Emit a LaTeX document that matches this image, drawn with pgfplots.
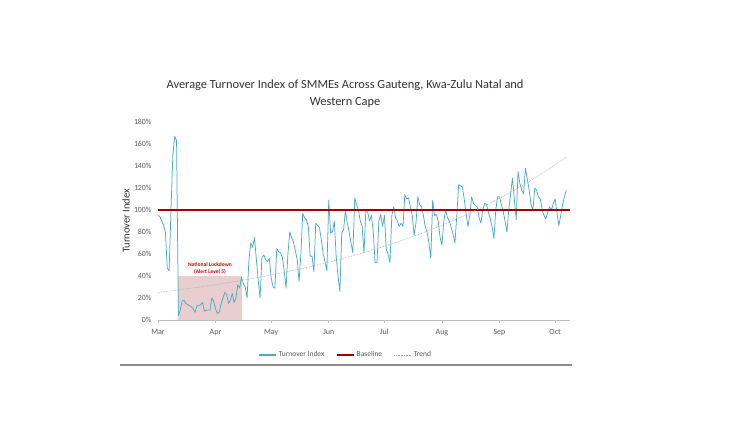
\documentclass[border=0pt]{standalone}
\usepackage{pgfplots}
\pgfplotsset{compat=1.18}
\usepackage{pgfplotstable}
\usepackage{fontspec}
\setmainfont{Carlito}
\definecolor{turn}{HTML}{4BACC6}
\definecolor{base}{HTML}{A00000}
\definecolor{boxc}{RGB}{232,206,206}
\definecolor{txt}{HTML}{333333}
\definecolor{tick}{HTML}{595959}
\pgfplotstableread{
day val
0 95
1 94
2 90
3 86
4 80
5 47
6 45
7 100
8 150
9 167
10 163
11 4
12 9
13 17
14 18
15 15
16 14
17 13
18 12
19 10
20 7
21 13
22 13
23 14
24 16
25 8
26 9
27 9
28 9
29 20
30 17
31 10
32 6
33 7
34 15
35 20
36 25
37 23
38 15
39 18
40 24
41 16
42 20
43 32
44 29
45 39
46 33
47 30
48 20
49 55
50 70
51 66
52 75
53 55
54 36
55 20
56 57
57 59
58 55
59 53
60 56
61 38
62 30
63 29
64 65
65 62
66 61
67 57
68 45
69 29
70 60
71 80
72 75
73 71
74 63
75 55
76 35
77 60
78 97
79 93
80 91
81 85
82 58
83 58
84 44
85 88
86 86
87 84
88 73
89 60
90 53
91 45
92 109
93 79
94 80
95 90
96 58
97 40
98 26
99 79
100 82
101 100
102 88
103 80
104 70
105 61
106 111
107 105
108 100
109 90
110 85
111 61
112 100
113 98
114 90
115 95
116 80
117 52
118 52
119 90
120 96
121 85
122 95
123 64
124 60
125 52
126 95
127 103
128 93
129 90
130 85
131 88
132 85
133 114
134 110
135 111
136 103
137 95
138 77
139 88
140 112
141 105
142 103
143 95
144 85
145 80
146 70
147 56
148 109
149 95
150 96
151 90
152 75
153 68
154 90
155 100
156 93
157 90
158 84
159 78
160 70
161 95
162 123
163 122
164 121
165 110
166 97
167 85
168 95
169 112
170 106
171 104
172 103
173 93
174 88
175 100
176 106
177 105
178 98
179 92
180 85
181 74
182 100
183 112
184 112
185 105
186 99
187 90
188 80
189 100
190 115
191 129
192 110
193 91
194 135
195 124
196 118
197 115
198 138
199 128
200 118
201 105
202 100
203 120
204 118
205 112
206 110
207 100
208 95
209 92
210 98
211 103
212 100
213 106
214 110
215 97
216 86
217 95
218 105
219 112
220 118
}\turnover
\pgfplotstableread{
day val
0 25
20 29.4
40 34.5
60 40.6
80 47.7
100 56.1
120 65.9
140 77.5
160 91.1
180 107.1
200 125.9
220 148
}\trend
\begin{document}
\begin{tikzpicture}
\path[use as bounding box] (0,0) rectangle (750pt,422pt);
\begin{axis}[
  at={(158pt,102pt)}, anchor=south west,
  scale only axis, width=412pt, height=198pt,
  xmin=0, xmax=222, ymin=0, ymax=180,
  axis x line*=bottom, axis y line*=left,
  x axis line style={-, draw=black!25, line width=0.8pt},
  y axis line style={draw=none},
  xtick={0,31,61,92,122,153,184,214},
  xticklabels={Mar,Apr,May,Jun,Jul,Aug,Sep,Oct},
  xtick style={draw=black!25, line width=0.6pt},
  tick align=outside, major tick length=3pt,
  xticklabel style={font=\fontsize{8}{9}\selectfont, text=tick, text height=1.6ex, text depth=0.4ex},
  ytick={0,20,...,180},
  yticklabel={\pgfmathprintnumber{\tick}\%},
  yticklabel style={font=\fontsize{7.8}{9}\selectfont, text=tick},
  /pgf/number format/assume math mode=true,
  ytick style={draw=none},
  ylabel={Turnover Index},
  ylabel style={font=\fontsize{10.5}{11}\selectfont, text=txt, at={(axis description cs:-0.06,0.5)}},
  clip=false,
  legend columns=3,
  legend style={at={(0.456,-0.177)}, anchor=center, draw=none, fill=none,
    font=\fontsize{7.5}{8}\selectfont, text=tick,
    /tikz/every even column/.append style={column sep=10pt}},
  legend image code/.code={\draw[#1] (0pt,0pt) -- (17pt,0pt);},
]
\fill[boxc] (axis cs:11,0) rectangle (axis cs:45,40);
\addplot[color=turn, line width=0.75pt, line join=round, forget plot] table[x=day,y=val]{\turnover};
\addlegendimage{color=turn, line width=1.1pt}
\addlegendentry{Turnover Index}
\addplot[color=base, line width=1.4pt] coordinates {(0,100) (222,100)};
\addlegendentry{Baseline}
\addplot[color=black!35, line width=0.6pt, densely dotted, smooth] table[x=day,y=val]{\trend};
\addlegendentry{Trend}
\node[font=\bfseries\fontsize{5.5}{6.5}\selectfont, text=red!85!black, align=center] at (axis cs:28,47) {National Lockdown\\(Alert Level 5)};
\node[font=\fontsize{12.4}{17}\selectfont, text=txt, align=center] at (axis description cs:0.454,1.144) {Average Turnover Index of SMMEs Across Gauteng, Kwa-Zulu Natal and\\Western Cape};
\end{axis}
\draw[black!45, line width=1.2pt] (120pt,57pt) -- (572pt,57pt);
\end{tikzpicture}
\end{document}
